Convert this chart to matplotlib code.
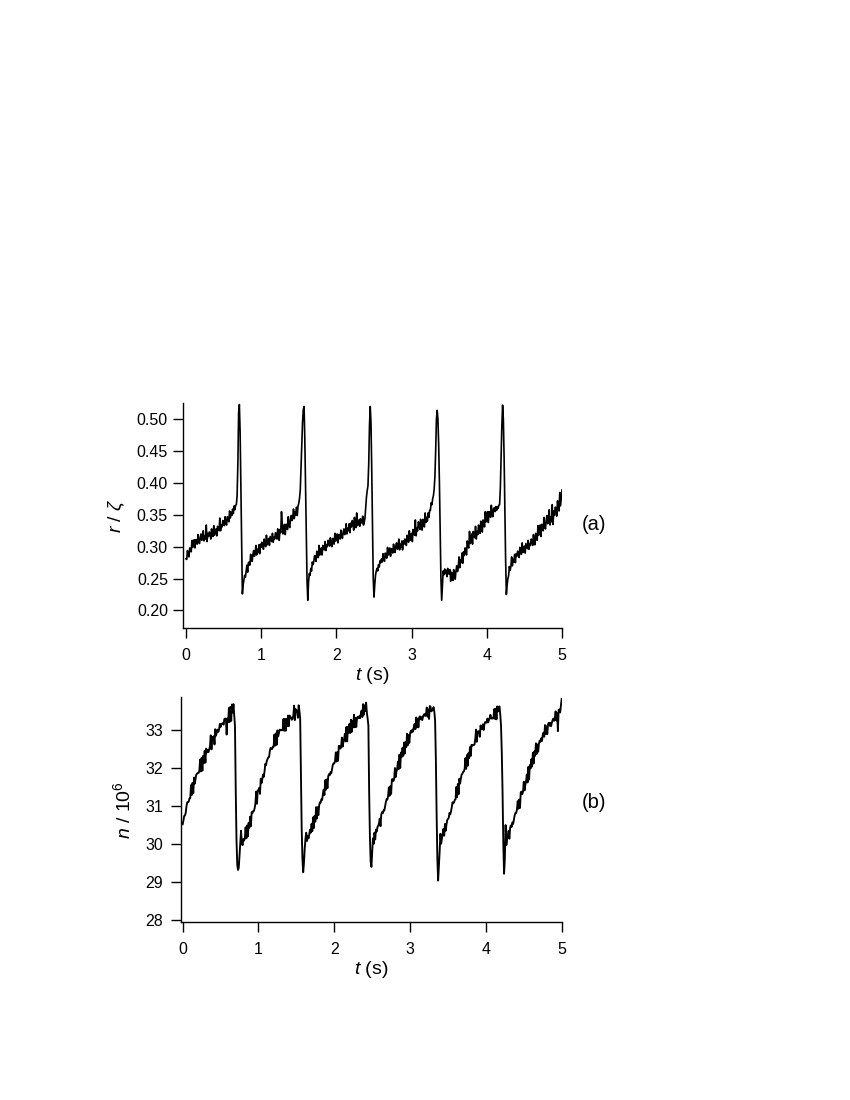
import numpy as np
import matplotlib
matplotlib.use("Agg")
import matplotlib.pyplot as plt

plt.rcParams['font.family'] = ['Liberation Sans', 'DejaVu Sans']
plt.rcParams['mathtext.fontset'] = 'custom'
plt.rcParams['mathtext.rm'] = 'Liberation Sans'
plt.rcParams['mathtext.it'] = 'Liberation Sans:italic'

# ---- data: panel (a) r / zeta, sampled every 0.01 s from 0 to 5 s ----
r_vals = [
    0.281, 0.280, 0.294, 0.287, 0.284, 0.298, 0.297, 0.292, 0.310, 0.299,
    0.303, 0.311, 0.298, 0.311, 0.310, 0.304, 0.319, 0.308, 0.305, 0.315,
    0.320, 0.310, 0.313, 0.325, 0.309, 0.317, 0.312, 0.334, 0.308, 0.321,
    0.316, 0.323, 0.322, 0.312, 0.328, 0.319, 0.316, 0.333, 0.318, 0.323,
    0.328, 0.317, 0.332, 0.328, 0.325, 0.345, 0.325, 0.334, 0.331, 0.341,
    0.339, 0.333, 0.347, 0.338, 0.334, 0.347, 0.345, 0.339, 0.356, 0.345,
    0.354, 0.349, 0.359, 0.352, 0.364, 0.358, 0.365, 0.366, 0.380, 0.430,
    0.510, 0.523, 0.480, 0.400, 0.310, 0.226, 0.240, 0.247, 0.255, 0.252,
    0.261, 0.271, 0.260, 0.275, 0.276, 0.271, 0.288, 0.279, 0.277, 0.288,
    0.294, 0.285, 0.289, 0.302, 0.287, 0.296, 0.291, 0.303, 0.289, 0.304,
    0.299, 0.307, 0.306, 0.296, 0.312, 0.304, 0.300, 0.318, 0.303, 0.309,
    0.313, 0.302, 0.316, 0.312, 0.308, 0.321, 0.307, 0.315, 0.312, 0.322,
    0.320, 0.312, 0.328, 0.316, 0.310, 0.327, 0.322, 0.355, 0.336, 0.320,
    0.325, 0.335, 0.319, 0.335, 0.335, 0.327, 0.347, 0.333, 0.330, 0.344,
    0.349, 0.341, 0.345, 0.359, 0.344, 0.354, 0.350, 0.362, 0.349, 0.364,
    0.368, 0.376, 0.390, 0.425, 0.460, 0.495, 0.515, 0.520, 0.470, 0.390,
    0.320, 0.245, 0.216, 0.245, 0.258, 0.255, 0.266, 0.262, 0.276, 0.272,
    0.277, 0.286, 0.285, 0.277, 0.293, 0.286, 0.283, 0.302, 0.287, 0.294,
    0.298, 0.287, 0.302, 0.298, 0.295, 0.308, 0.294, 0.303, 0.300, 0.310,
    0.307, 0.301, 0.314, 0.305, 0.300, 0.313, 0.310, 0.304, 0.321, 0.309,
    0.312, 0.320, 0.306, 0.319, 0.318, 0.312, 0.326, 0.316, 0.313, 0.323,
    0.328, 0.319, 0.322, 0.336, 0.320, 0.329, 0.325, 0.336, 0.322, 0.337,
    0.331, 0.341, 0.339, 0.326, 0.346, 0.335, 0.330, 0.353, 0.333, 0.339,
    0.342, 0.332, 0.344, 0.340, 0.337, 0.348, 0.334, 0.338, 0.345, 0.362,
    0.378, 0.388, 0.396, 0.430, 0.490, 0.520, 0.495, 0.420, 0.330, 0.250,
    0.221, 0.240, 0.255, 0.262, 0.266, 0.262, 0.272, 0.268, 0.278, 0.275,
    0.281, 0.276, 0.289, 0.280, 0.277, 0.290, 0.287, 0.282, 0.299, 0.287,
    0.290, 0.298, 0.285, 0.297, 0.296, 0.290, 0.304, 0.294, 0.291, 0.301,
    0.306, 0.296, 0.299, 0.312, 0.295, 0.304, 0.299, 0.309, 0.295, 0.309,
    0.304, 0.312, 0.311, 0.302, 0.318, 0.310, 0.307, 0.325, 0.310, 0.316,
    0.321, 0.308, 0.327, 0.322, 0.318, 0.342, 0.317, 0.329, 0.325, 0.339,
    0.335, 0.327, 0.343, 0.331, 0.326, 0.343, 0.339, 0.331, 0.353, 0.338,
    0.346, 0.340, 0.353, 0.346, 0.357, 0.357, 0.369, 0.366, 0.375, 0.380,
    0.390, 0.410, 0.450, 0.500, 0.514, 0.500, 0.460, 0.400, 0.320, 0.250,
    0.216, 0.240, 0.262, 0.256, 0.265, 0.258, 0.263, 0.253, 0.266, 0.258,
    0.257, 0.264, 0.246, 0.260, 0.256, 0.247, 0.264, 0.252, 0.249, 0.262,
    0.270, 0.261, 0.267, 0.284, 0.267, 0.279, 0.275, 0.290, 0.274, 0.292,
    0.286, 0.298, 0.297, 0.287, 0.309, 0.301, 0.298, 0.324, 0.305, 0.313,
    0.320, 0.304, 0.324, 0.318, 0.314, 0.332, 0.312, 0.324, 0.319, 0.334,
    0.329, 0.321, 0.340, 0.328, 0.323, 0.342, 0.338, 0.331, 0.355, 0.339,
    0.344, 0.355, 0.338, 0.355, 0.354, 0.346, 0.365, 0.351, 0.347, 0.360,
    0.361, 0.355, 0.363, 0.357, 0.363, 0.360, 0.365, 0.366, 0.392, 0.440,
    0.490, 0.522, 0.500, 0.440, 0.360, 0.280, 0.225, 0.240, 0.250, 0.255,
    0.269, 0.263, 0.269, 0.284, 0.270, 0.280, 0.276, 0.288, 0.275, 0.289,
    0.285, 0.293, 0.292, 0.283, 0.299, 0.291, 0.288, 0.306, 0.291, 0.297,
    0.301, 0.290, 0.305, 0.301, 0.297, 0.310, 0.296, 0.305, 0.302, 0.312,
    0.310, 0.302, 0.319, 0.308, 0.303, 0.321, 0.317, 0.310, 0.333, 0.318,
    0.323, 0.334, 0.316, 0.335, 0.333, 0.325, 0.346, 0.332, 0.328, 0.342,
    0.349, 0.336, 0.339, 0.358, 0.334, 0.347, 0.339, 0.366, 0.335, 0.356,
    0.349, 0.362, 0.360, 0.348, 0.372, 0.360, 0.356, 0.385, 0.364, 0.377,
    0.389,
]

# ---- data: panel (b) n / 10^6, sampled every 0.01 s from 0 to 5 s ----
n_vals = [
    30.52, 30.62, 30.74, 30.75, 30.82, 30.99, 31.10, 31.10, 31.12, 31.20,
    31.21, 31.55, 31.29, 31.61, 31.34, 31.75, 31.59, 31.72, 31.83, 31.85,
    31.87, 31.87, 31.93, 32.22, 31.91, 32.27, 31.93, 32.32, 32.13, 32.45,
    32.14, 32.51, 32.41, 32.47, 32.42, 32.49, 32.56, 32.86, 32.49, 32.81,
    32.77, 32.84, 32.62, 33.02, 32.85, 32.94, 33.01, 32.95, 33.01, 33.16,
    33.08, 33.16, 33.17, 33.18, 33.14, 33.29, 33.30, 33.30, 32.88, 33.30,
    33.21, 33.58, 33.21, 33.61, 33.24, 33.67, 33.46, 33.68, 33.40, 33.10,
    31.40, 30.10, 29.45, 29.32, 29.38, 29.70, 30.05, 30.35, 30.05, 29.97,
    30.13, 30.09, 30.15, 30.44, 30.15, 30.49, 30.20, 30.56, 30.43, 30.72,
    30.47, 30.84, 30.81, 30.87, 30.87, 30.95, 31.08, 31.38, 31.06, 31.41,
    31.42, 31.48, 31.32, 31.72, 31.60, 31.70, 31.83, 31.77, 31.91, 32.11,
    32.08, 32.19, 32.24, 32.28, 32.29, 32.45, 32.53, 32.50, 32.50, 32.56,
    32.56, 32.88, 32.59, 32.91, 32.61, 32.99, 32.83, 32.92, 33.01, 33.00,
    33.00, 32.99, 33.03, 33.29, 32.98, 33.29, 32.98, 33.29, 33.10, 33.38,
    33.10, 33.38, 33.33, 33.33, 33.27, 33.29, 33.38, 33.64, 33.26, 33.55,
    33.50, 33.51, 33.32, 33.65, 33.50, 33.30, 31.80, 30.40, 29.60, 29.26,
    29.50, 29.88, 30.14, 30.30, 30.08, 30.22, 30.15, 30.25, 30.38, 30.30,
    30.53, 30.34, 30.70, 30.42, 30.74, 30.59, 30.97, 30.67, 30.97, 30.76,
    31.01, 31.10, 31.09, 31.18, 31.16, 31.32, 31.43, 31.29, 31.68, 31.43,
    31.70, 31.47, 31.78, 31.84, 31.81, 31.89, 31.86, 31.96, 32.08, 32.12,
    32.12, 32.18, 32.41, 32.17, 32.42, 32.19, 32.58, 32.58, 32.51, 32.55,
    32.80, 32.56, 32.68, 32.77, 32.90, 32.70, 33.08, 32.70, 33.08, 32.93,
    33.16, 32.92, 33.27, 32.95, 33.24, 33.07, 33.40, 33.07, 33.32, 33.08,
    33.31, 33.35, 33.31, 33.36, 33.31, 33.42, 33.51, 33.34, 33.68, 33.40,
    33.65, 33.50, 33.72, 33.45, 33.30, 33.12, 31.37, 30.20, 29.53, 29.40,
    29.80, 30.15, 30.00, 30.30, 30.12, 30.38, 30.33, 30.45, 30.48, 30.55,
    30.67, 30.47, 30.78, 30.84, 30.81, 30.89, 30.88, 30.99, 31.10, 31.18,
    31.17, 31.26, 31.49, 31.27, 31.52, 31.32, 31.70, 31.71, 31.66, 31.71,
    32.00, 31.76, 31.90, 31.99, 32.17, 31.97, 32.35, 32.00, 32.41, 32.29,
    32.53, 32.32, 32.67, 32.38, 32.69, 32.55, 32.90, 32.60, 32.87, 32.66,
    32.91, 32.98, 32.93, 33.01, 32.96, 33.09, 33.16, 33.02, 33.33, 33.07,
    33.30, 33.07, 33.33, 33.36, 33.28, 33.34, 33.26, 33.34, 33.40, 33.42,
    33.37, 33.41, 33.59, 33.35, 33.54, 33.29, 33.63, 33.61, 33.49, 33.51,
    33.55, 33.60, 33.48, 33.25, 32.25, 30.80, 29.60, 29.04, 29.40, 29.80,
    30.27, 30.01, 30.15, 30.27, 30.40, 30.22, 30.53, 30.35, 30.51, 30.63,
    30.66, 30.69, 30.82, 30.78, 30.86, 30.97, 31.10, 31.07, 31.10, 31.16,
    31.18, 31.50, 31.23, 31.58, 31.31, 31.72, 31.59, 31.72, 31.83, 31.85,
    31.90, 31.91, 31.98, 32.26, 31.98, 32.34, 32.06, 32.39, 32.26, 32.55,
    32.32, 32.61, 32.59, 32.60, 32.60, 32.62, 32.76, 33.01, 32.69, 32.95,
    32.97, 32.96, 32.82, 33.12, 33.03, 33.02, 33.15, 33.00, 33.14, 33.21,
    33.20, 33.19, 33.30, 33.20, 33.26, 33.32, 33.40, 33.30, 33.32, 33.30,
    33.31, 33.55, 33.29, 33.56, 33.28, 33.62, 33.49, 33.60, 33.62, 33.40,
    33.10, 32.40, 31.37, 30.00, 29.22, 29.60, 30.50, 29.97, 30.15, 30.22,
    30.35, 30.14, 30.43, 30.49, 30.45, 30.57, 30.53, 30.64, 30.76, 30.82,
    30.82, 30.91, 31.13, 30.93, 31.17, 30.95, 31.36, 31.38, 31.31, 31.38,
    31.64, 31.41, 31.55, 31.65, 31.83, 31.62, 32.03, 31.70, 32.08, 31.99,
    32.23, 32.04, 32.40, 32.12, 32.44, 32.32, 32.65, 32.37, 32.62, 32.43,
    32.64, 32.72, 32.69, 32.78, 32.71, 32.87, 32.93, 32.82, 33.13, 32.90,
    33.10, 32.89, 33.15, 33.19, 33.11, 33.19, 33.10, 33.19, 33.26, 33.30,
    33.24, 33.31, 33.49, 33.25, 33.44, 32.97, 33.53, 33.54, 33.46, 33.63,
    33.82,
]

x_ticks = [0, 1, 2, 3, 4, 5]
r_ticks = [0.20, 0.25, 0.30, 0.35, 0.40, 0.45, 0.50]
n_ticks = [28, 29, 30, 31, 32, 33]

t_r = np.linspace(0, 5, len(r_vals))
t_n = np.linspace(0, 5, len(n_vals))

fig = plt.figure(figsize=(8.5, 11), dpi=100)

def style(ax):
    for s in ['top', 'right']:
        ax.spines[s].set_visible(False)
    for s in ['left', 'bottom']:
        ax.spines[s].set_linewidth(1.0)
    ax.tick_params(direction='out', length=7.5, width=1.0, labelsize=11.5,
                   colors='black')
    ax.tick_params(axis='x', pad=7)
    ax.tick_params(axis='y', pad=3.5)

ax1 = fig.add_axes([0.2156, 0.4288, 0.4456, 0.2046])
ax1.plot(t_r, r_vals, color='black', lw=1.2)
ax1.set_xlim(-0.036, 5.0)
ax1.set_ylim(0.172, 0.525)
ax1.set_xticks(x_ticks)
ax1.set_yticks(r_ticks)
ax1.set_yticklabels([f"{v:.2f}" for v in r_ticks])
style(ax1)
ax1.set_xlabel(r'$\mathit{t}$ (s)', fontsize=14, labelpad=1)
ax1.set_ylabel(r'$\mathit{r}$ / $\mathit{ζ}$', fontsize=14, labelpad=7)

ax2 = fig.add_axes([0.2126, 0.1618, 0.4482, 0.2043])
ax2.plot(t_n, n_vals, color='black', lw=1.35)
ax2.set_xlim(-0.026, 5.0)
ax2.set_ylim(27.95, 33.86)
ax2.set_xticks(x_ticks)
ax2.set_yticks(n_ticks)
style(ax2)
ax2.tick_params(axis='y', pad=5)
ax2.set_xlabel(r'$\mathit{t}$ (s)', fontsize=14, labelpad=1)
ax2.set_ylabel(r'$\mathit{n}$ / 10$^{6}$', fontsize=14, labelpad=8)

fig.text(594 / 850, 1 - 524 / 1100, '(a)', ha='center', va='center', fontsize=14.5)
fig.text(594 / 850, 1 - 802 / 1100, '(b)', ha='center', va='center', fontsize=14.5)

fig.savefig('out.png', dpi=100)
